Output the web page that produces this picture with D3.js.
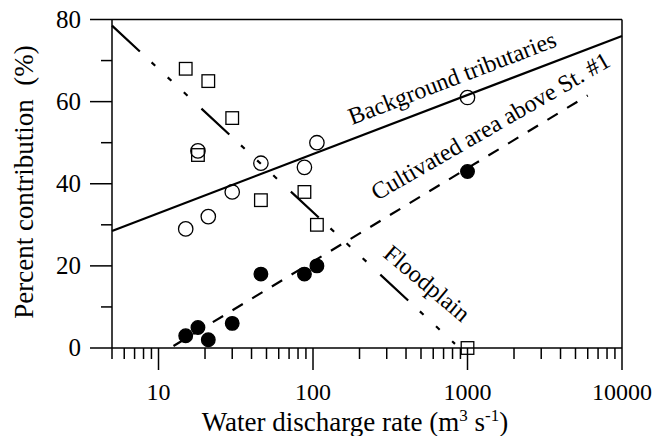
<!DOCTYPE html>
<meta charset="utf-8">
<style>
  body { margin: 0; background: #fff; }
  svg text { font-family: "Liberation Serif", "Times New Roman", serif; fill: #000; }
</style>
<body>
<svg id="chart" width="659" height="436"></svg>
<script src="https://d3js.org/d3.v7.min.js"></script>
<script>
  // discharge (m3/s) of each sampling
  const discharge = [15, 18, 21, 30, 46, 88, 106, 1000];
  // percent contribution of each source
  const background = [29, 48, 32, 38, 45, 44, 50, 61];
  const cultivated = [3, 5, 2, 6, 18, 18, 20, 43];
  const floodplainX = [15, 21, 30, 18, 46, 88, 106, 1000];
  const floodplain = [68, 65, 56, 47, 36, 38, 30, 0];

  // fitted lines (end points)
  const bgFit = [[5, 28.5], [10000, 76]];
  const cultFit = [[12.5, 0.5], [6000, 61.5]];
  const floodFit = [[5, 78.5], [830, 1]];

  const xMajor = [10, 100, 1000, 10000];
  const yMajor = [0, 20, 40, 60, 80];
  const yMinor = [10, 30, 50, 70];

  const svg = d3.select("#chart");
  const pl = 112, pr = 622, pt = 19.5, pb = 348;

  const x = d3.scaleLog().domain([5, 10000]).range([pl, pr]);
  const y = d3.scaleLinear().domain([0, 80]).range([pb, pt]);

  // minor x ticks 5..9, 20..90, ...
  const xMinor = x.ticks().filter(v => xMajor.indexOf(v) < 0);

  const ax = svg.append("g").attr("stroke", "#000").attr("stroke-width", 1.5).attr("fill", "none");
  // frame
  ax.append("line").attr("x1", pl).attr("x2", pl).attr("y1", pt).attr("y2", pb);
  ax.append("line").attr("x1", pr).attr("x2", pr).attr("y1", pt).attr("y2", pb);
  ax.append("line").attr("x1", pl).attr("x2", pr).attr("y1", pt).attr("y2", pt);
  ax.append("line").attr("x1", pl).attr("x2", pr).attr("y1", pb).attr("y2", pb);

  // y ticks
  ax.selectAll(".ymaj").data(yMajor).join("line")
    .attr("x1", pl - 22).attr("x2", pl)
    .attr("y1", d => y(d)).attr("y2", d => y(d));
  ax.selectAll(".ymin").data(yMinor).join("line")
    .attr("x1", pl - 11).attr("x2", pl)
    .attr("y1", d => y(d)).attr("y2", d => y(d));

  // x ticks
  ax.selectAll(".xmaj").data(xMajor).join("line")
    .attr("x1", d => x(d)).attr("x2", d => x(d))
    .attr("y1", pb).attr("y2", pb + 22);
  ax.selectAll(".xmin").data(xMinor).join("line")
    .attr("x1", d => x(d)).attr("x2", d => x(d))
    .attr("y1", pb).attr("y2", pb + 11);

  // tick labels
  svg.selectAll(".ylab").data(yMajor).join("text")
    .attr("x", 81).attr("y", d => y(d) + 8)
    .attr("text-anchor", "end").attr("font-size", 25)
    .text(d => d);
  svg.selectAll(".xlab").data(xMajor).join("text")
    .attr("x", d => x(d)).attr("y", 400)
    .attr("text-anchor", "middle").attr("font-size", 24)
    .text(d => d);

  // axis titles
  const xt = svg.append("text").attr("x", 355).attr("y", 431)
    .attr("text-anchor", "middle").attr("font-size", 27);
  xt.append("tspan").text("Water discharge rate (m");
  xt.append("tspan").attr("font-size", 17).attr("dy", -10).text("3");
  xt.append("tspan").attr("dy", 10).text(" s");
  xt.append("tspan").attr("font-size", 17).attr("dy", -10).text("-1");
  xt.append("tspan").attr("dy", 10).text(")");

  svg.append("text")
    .attr("transform", "translate(33,182) rotate(-90)")
    .attr("text-anchor", "middle").attr("font-size", 27)
    .attr("xml:space", "preserve")
    .text("Percent contribution  (%)");

  // fitted lines
  const line = d3.line().x(d => x(d[0])).y(d => y(d[1]));
  const lines = svg.append("g").attr("fill", "none").attr("stroke", "#000").attr("stroke-width", 2.2);
  lines.append("path").attr("d", line(bgFit));
  lines.append("path").attr("d", line(cultFit)).attr("stroke-dasharray", "12,11");
  lines.append("path").attr("d", line(floodFit)).attr("stroke-dasharray", "38,16,5,17,5,17,5,19");

  // points
  const pts = svg.append("g").attr("stroke", "#000").attr("stroke-width", 1.3);
  pts.selectAll(".bg").data(discharge).join("circle")
    .attr("cx", d => x(d)).attr("cy", (d, i) => y(background[i]))
    .attr("r", 7.2).attr("fill", "none");
  pts.selectAll(".fp").data(floodplainX).join("rect")
    .attr("x", d => x(d) - 6.3).attr("y", (d, i) => y(floodplain[i]) - 6.3)
    .attr("width", 12.6).attr("height", 12.6).attr("fill", "none");
  pts.selectAll(".cu").data(discharge).join("circle")
    .attr("cx", d => x(d)).attr("cy", (d, i) => y(cultivated[i]))
    .attr("r", 6.8).attr("fill", "#000");

  // line labels
  svg.append("text").attr("font-size", 24)
    .attr("transform", "translate(352,125) rotate(-21)")
    .text("Background tributaries");
  svg.append("text").attr("font-size", 24)
    .attr("transform", "translate(377,201) rotate(-30)")
    .text("Cultivated area above St. #1");
  svg.append("text").attr("font-size", 24)
    .attr("transform", "translate(382,256) rotate(40)")
    .text("Floodplain");
</script>
</body>
